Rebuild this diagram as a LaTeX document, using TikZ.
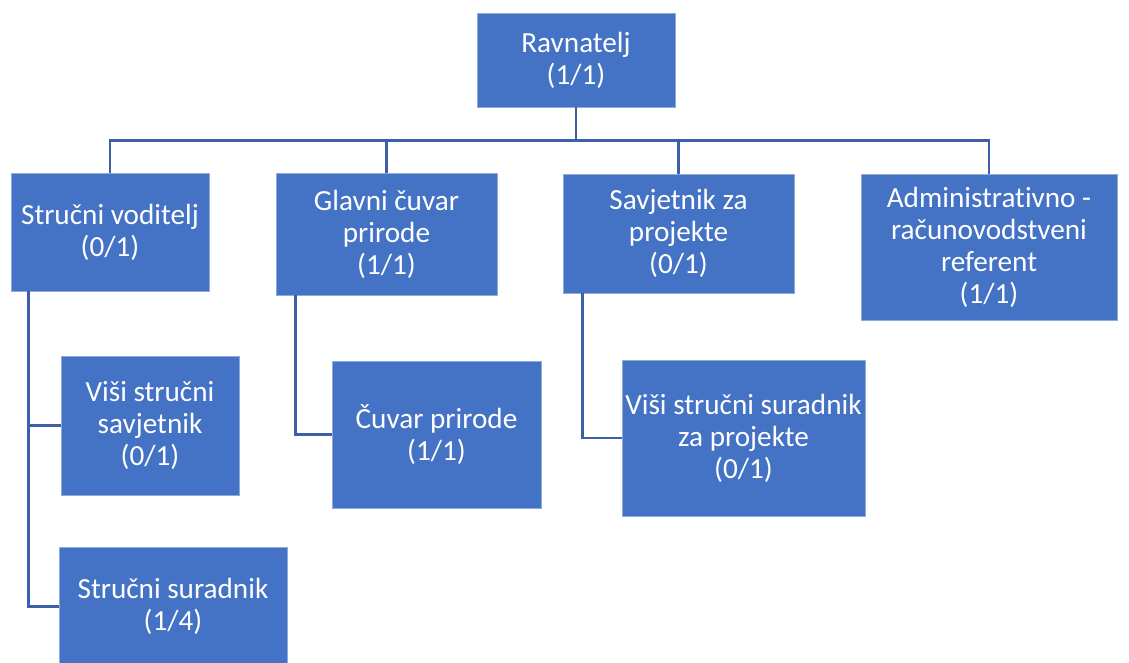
\documentclass[tikz,border=0pt]{standalone}
\usepackage{fontspec}
\setmainfont[Ligatures={NoCommon}]{Carlito}
\usetikzlibrary{calc}
\definecolor{boxfill}{HTML}{4472C4}
\definecolor{boxedge}{HTML}{8FAADC}
\definecolor{conn}{RGB}{60,95,165}
\begin{document}
\begin{tikzpicture}[x=1pt,y=-1pt,
  box/.style={fill=boxfill,draw=boxedge,line width=0.8pt,text=white,align=center,
    inner sep=0pt,font=\fontsize{29.2}{32}\selectfont},
  link/.style={draw=conn,line width=2.8pt}]
\useasboundingbox (0,0) rectangle (1129,662);
\newcommand{\boxat}[6]{%
  \node[box,minimum width=#4-#2,minimum height=#5-#3] (#1) at ({(#2+#4)/2},{(#3+#5)/2}) {#6};}
\boxat{rav}{477}{13}{675}{107}{Ravnatelj\\(1/1)}
\boxat{sv}{11}{173}{209}{291}{Stručni voditelj\\(0/1)}
\boxat{gcp}{276}{173}{497}{295}{Glavni čuvar\\prirode\\(1/1)}
\boxat{szp}{563}{174}{794}{293}{Savjetnik za\\projekte\\(0/1)}
\boxat{arr}{861}{174}{1117}{320}{Administrativno -\\računovodstveni\\referent\\(1/1)}
\boxat{vss}{61}{356}{239}{495}{Viši stručni\\savjetnik\\(0/1)}
\boxat{ssu}{59}{547}{287}{666}{Stručni suradnik\\(1/4)}
\boxat{cp}{332}{361}{541}{508}{Čuvar prirode\\(1/1)}
\boxat{vsp}{622}{360}{865}{516}{Viši stručni suradnik\\za projekte\\(0/1)}
\coordinate (bus) at ($(rav.south)+(0,33)$);
\draw[link] (rav.south) -- (bus);
\draw[link] (bus) -| (sv.north);
\draw[link] (bus) -| (gcp.north);
\draw[link] (bus) -| (szp.north);
\draw[link] (bus) -| (arr.north);
\draw[link] ([xshift=18pt]sv.south west) |- (vss.west);
\draw[link] ([xshift=18pt]sv.south west) |- (ssu.west);
\draw[link] ([xshift=20pt]gcp.south west) |- (cp.west);
\draw[link] ([xshift=20pt]szp.south west) |- (vsp.west);
\end{tikzpicture}
\end{document}
